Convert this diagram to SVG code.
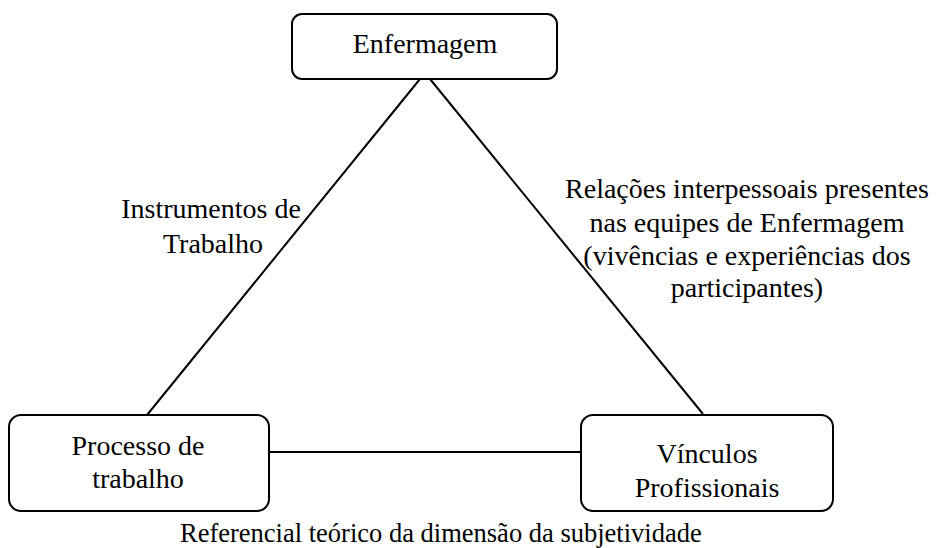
<svg xmlns="http://www.w3.org/2000/svg" width="942" height="548" viewBox="0 0 942 548">
<style>
.box{fill:#fff;stroke:#000;stroke-width:2}
.ln{stroke:#000;stroke-width:2;fill:none}
text{font-family:'Liberation Serif',Tinos,'Times New Roman',Times,'DejaVu Serif',serif;font-size:28px;fill:#000}
.c{text-anchor:middle}
</style>
<rect width="942" height="548" fill="#fff"/>
<g id="connectors">
<line class="ln" x1="147" y1="415" x2="420" y2="79"/>
<line class="ln" x1="430" y1="79" x2="703" y2="414"/>
<line class="ln" x1="269" y1="452" x2="581" y2="452"/>
</g>
<g id="node-enfermagem">
<rect class="box" x="292" y="14" width="265" height="65" rx="10"/>
<text class="c" x="425" y="53" font-family="Liberation Serif, Tinos, Times New Roman, serif">Enfermagem</text>
</g>
<g id="node-processo">
<rect class="box" x="9" y="415" width="260" height="96" rx="12"/>
<text class="c" x="138" y="455">Processo de</text>
<text class="c" x="138" y="488">trabalho</text>
</g>
<g id="node-vinculos">
<rect class="box" x="581" y="415" width="252" height="96" rx="12"/>
<text class="c" x="707" y="463">Vínculos</text>
<text class="c" x="707" y="497">Profissionais</text>
</g>
<g id="label-instrumentos">
<text class="c" x="211" y="218">Instrumentos de</text>
<text class="c" x="213" y="253">Trabalho</text>
</g>
<g id="label-relacoes">
<text class="c" x="747" y="198">Relações interpessoais presentes</text>
<text class="c" x="747" y="232">nas equipes de Enfermagem</text>
<text class="c" x="747" y="265">(vivências e experiências dos</text>
<text class="c" x="747" y="297">participantes)</text>
</g>
<g id="caption">
<text x="180" y="542" style="font-size:26.5px">Referencial teórico da dimensão da subjetividade</text>
</g>
</svg>
